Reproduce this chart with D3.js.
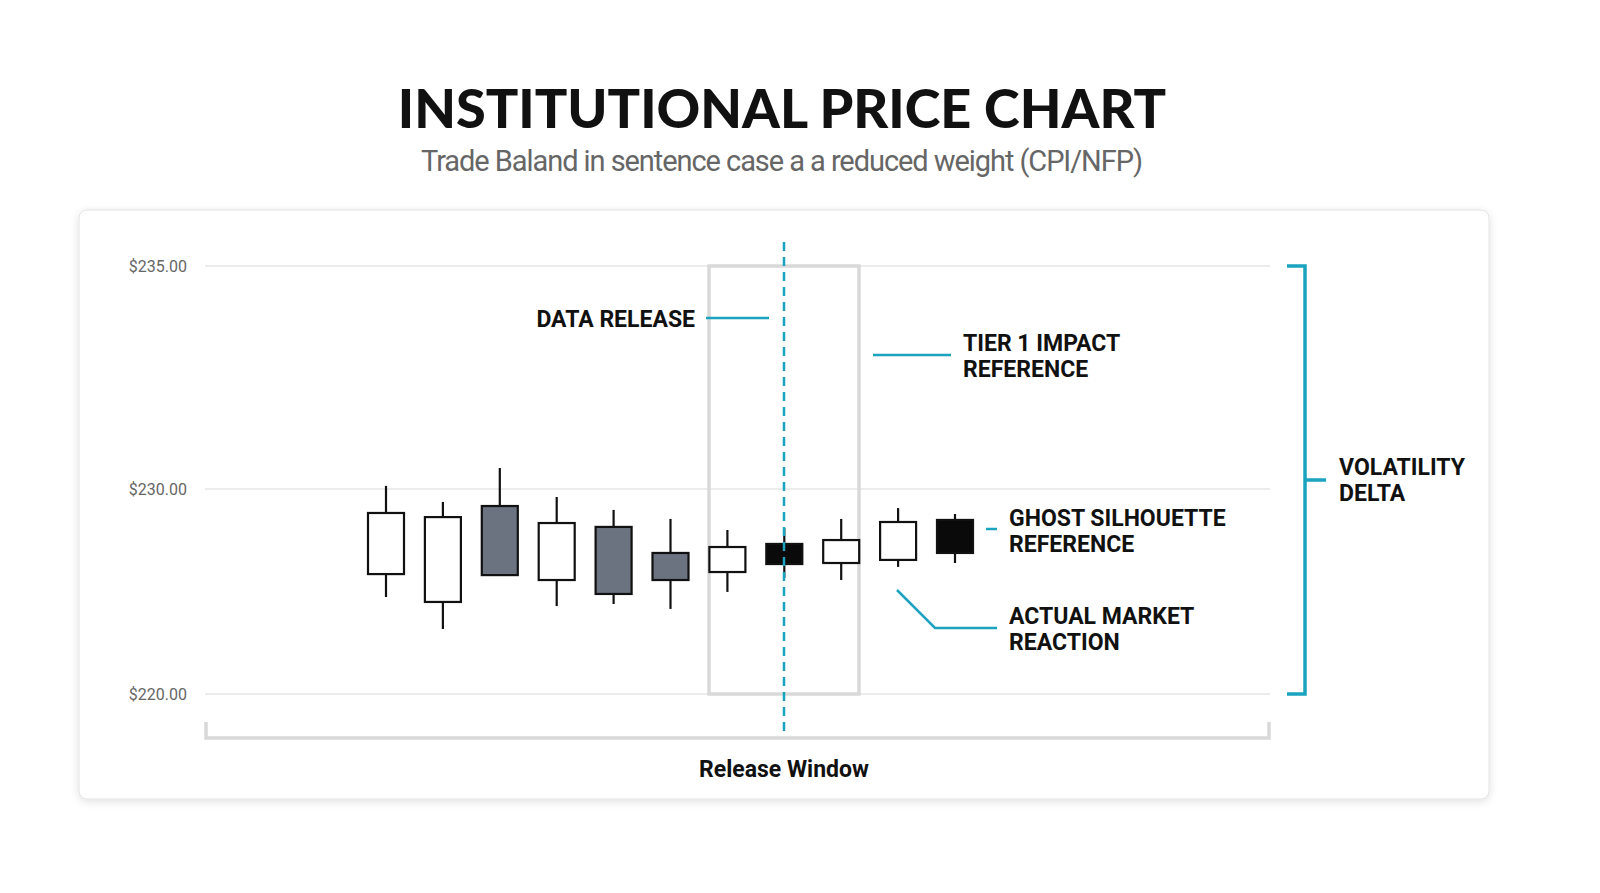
<!DOCTYPE html>
<html><head><meta charset="utf-8">
<script src="https://cdn.jsdelivr.net/npm/d3@7"></script>
<style>body{margin:0;background:#fff}</style></head>
<body><svg width="1600" height="893"></svg>
<script>
const opens  = [225.85, 224.49, 229.17, 225.56, 228.15, 226.88, 225.95, 227.32, 226.39, 226.54, 228.49];
const closes = [228.83, 228.63, 225.80, 228.34, 224.88, 225.56, 227.17, 226.34, 227.51, 228.39, 226.88];
const highs  = [230.07, 229.37, 230.47, 229.61, 228.98, 228.54, 228.00, 228.10, 228.54, 229.07, 228.78];
const lows   = [224.73, 223.17, 225.80, 224.29, 224.39, 224.15, 224.98, 225.66, 225.56, 226.20, 226.39];
const kinds  = ["up","up","ghost","up","ghost","ghost","up","actual","up","up","actual"];
const yTicks = [220, 230, 235];

const svg = d3.select("svg");
const fill = {up: "#fff", ghost: "#6b7280", actual: "#0a0a0a"};

const y = d3.scaleLinear().domain([220, 230, 235]).range([694, 489, 266]);
const x = d3.scaleLinear().domain([0, 10]).range([386, 955]);

const defs = svg.append("defs");
const f = defs.append("filter").attr("id", "sh").attr("x", "-5%").attr("y", "-5%").attr("width", "110%").attr("height", "110%");
f.append("feDropShadow").attr("dx", 0).attr("dy", 2).attr("stdDeviation", 4).attr("flood-opacity", 0.12);

svg.append("text").attr("x", 782).attr("y", 128).attr("text-anchor", "middle")
    .style("font", "900 54px Lato").attr("fill", "#111").text("INSTITUTIONAL PRICE CHART");
svg.append("text").attr("x", 782).attr("y", 171).attr("text-anchor", "middle")
    .attr("textLength", 722)
    .style("font", "400 29px Roboto").attr("fill", "#666").text("Trade Baland in sentence case a a reduced weight (CPI/NFP)");

svg.append("rect").attr("x", 79).attr("y", 210).attr("width", 1410).attr("height", 589).attr("rx", 8)
    .attr("fill", "#fff").attr("stroke", "#e2e2e2").attr("filter", "url(#sh)");

// grid + labels
svg.append("g").selectAll("line").data(yTicks).enter().append("line")
    .attr("x1", 205).attr("x2", 1270).attr("y1", d => y(d)).attr("y2", d => y(d))
    .attr("stroke", "#e6e6e6").attr("stroke-width", 1.5);
svg.append("g").selectAll("text").data(yTicks).enter().append("text")
    .attr("x", 187).attr("y", d => y(d) + 6).attr("text-anchor", "end")
    .style("font", "16px Roboto").attr("fill", "#666").text(d => "$" + d.toFixed(2));

// release window box
svg.append("rect").attr("x", 709).attr("y", y(235)).attr("width", 150).attr("height", y(220) - y(235))
    .attr("fill", "none").attr("stroke", "#d9d9d9").attr("stroke-width", 3.5);

// bottom bracket
svg.append("path").attr("d", "M206,722V738H1269V722").attr("fill", "none").attr("stroke", "#d9d9d9").attr("stroke-width", 3.5);
svg.append("text").attr("x", 784).attr("y", 777).attr("text-anchor", "middle")
    .style("font", "700 23px Roboto").attr("fill", "#111").text("Release Window");

// candles
const idx = d3.range(opens.length);
const c = svg.append("g").selectAll("g").data(idx).enter().append("g");
c.append("line").attr("x1", i => x(i)).attr("x2", i => x(i))
    .attr("y1", i => y(highs[i])).attr("y2", i => y(lows[i]))
    .attr("stroke", "#111").attr("stroke-width", 2.2);
c.append("rect").attr("x", i => x(i) - 18).attr("width", 36)
    .attr("y", i => y(Math.max(opens[i], closes[i])))
    .attr("height", i => Math.abs(y(opens[i]) - y(closes[i])))
    .attr("fill", i => fill[kinds[i]]).attr("stroke", "#111").attr("stroke-width", 2.2);

// dashed release line
svg.append("line").attr("x1", 784).attr("x2", 784).attr("y1", 242).attr("y2", 736)
    .attr("stroke", "#1ba3c0").attr("stroke-width", 2.5).attr("stroke-dasharray", "9,6");

const teal = "#1ba3c0";
const lbl = (x0, y0, lines, anchor) => {
    const t = svg.append("text").attr("x", x0).attr("y", y0).attr("text-anchor", anchor || "start")
        .style("font", "700 23px Roboto").attr("fill", "#111");
    lines.forEach((l, k) => t.append("tspan").attr("x", x0).attr("dy", k ? 26 : 0).text(l));
};
const link = d => svg.append("path").attr("d", d).attr("fill", "none").attr("stroke", teal).attr("stroke-width", 2.5);

lbl(695, 327, ["DATA RELEASE"], "end");
link("M706,318H769");
lbl(963, 351, ["TIER 1 IMPACT", "REFERENCE"]);
link("M873,355H951");
lbl(1009, 526, ["GHOST SILHOUETTE", "REFERENCE"]);
link("M986,529H997");
lbl(1009, 624, ["ACTUAL MARKET", "REACTION"]);
link("M897,590L935,628H997");
lbl(1339, 475, ["VOLATILITY", "DELTA"]);
svg.append("path").attr("d", "M1287,266H1305V694H1287M1305,480H1326").attr("fill", "none")
    .attr("stroke", teal).attr("stroke-width", 3.5);
</script></body></html>
